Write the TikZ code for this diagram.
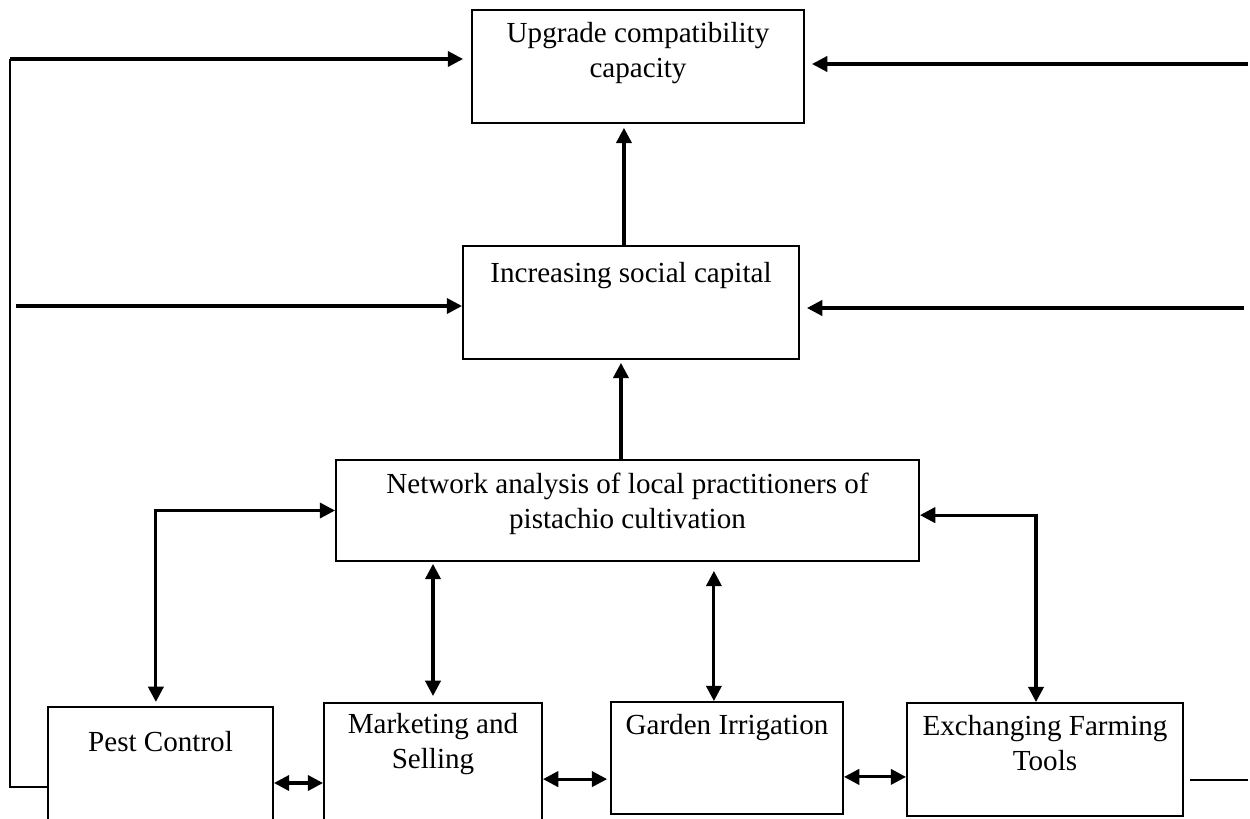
\documentclass[tikz,border=0pt]{standalone}
\usepackage{fontspec}
\setmainfont{Liberation Serif}
\usetikzlibrary{arrows.meta,positioning}
\newcommand{\px}{0.0145cm}

\begin{document}
\begin{tikzpicture}[x=\px,y=-\px,
  blk/.style={draw,line width=0.8pt,inner sep=0pt},
  lbl/.style={align=center,inner sep=0pt,font=\fontsize{12}{14.5}\selectfont,
    execute at begin node=\strut},
  flow/.style={line width=1.3pt,-{Triangle[length=6.3pt,width=6.3pt]}},
  twoway/.style={line width=1.3pt,
    {Triangle[length=6.3pt,width=6.3pt]}-{Triangle[length=6.3pt,width=6.3pt]}},
  thinline/.style={line width=0.9pt}]
  \useasboundingbox (0,0) rectangle (1250,818);
  \clip (0,0) rectangle (1250,818);

  % boxes
  \node[blk,minimum width=332*\px,minimum height=113*\px] (upgrade) at (638,66.5) {};
  \node[blk,minimum width=336*\px,minimum height=113*\px] (social) at (631,302.5) {};
  \node[blk,minimum width=583*\px,minimum height=101*\px] (network) at (627.5,510.5) {};
  \node[blk,minimum width=225*\px,minimum height=120*\px] (pest) at (160.5,767) {};
  \node[blk,minimum width=218*\px,minimum height=127*\px] (market) at (433,766.5) {};
  \node[blk,minimum width=232*\px,minimum height=112*\px] (garden) at (727,758) {};
  \node[blk,minimum width=276*\px,minimum height=113*\px] (exch) at (1045,759.5) {};

  \node[lbl,below=5.1pt of upgrade.north] (upgrade-t) {Upgrade compatibility\\capacity};
  \node[lbl,below=5.1pt of social.north] (social-t) {Increasing social capital};
  \node[lbl,below=5.5pt of network.north] (network-t)
    {Network analysis of local practitioners of\\pistachio cultivation};
  \node[lbl,below=8.4pt of pest.north] (pest-t) {Pest Control};
  \node[lbl,below=4.3pt of market.north] (market-t) {Marketing and\\Selling};
  \node[lbl,below=3.5pt of garden.north] (garden-t) {Garden Irrigation};
  \node[lbl,below=5.1pt of exch.north] (exch-t) {Exchanging Farming\\Tools};

  % outer lines
  \coordinate (lt) at (10,59);
  \coordinate (lb) at (10,787);
  \coordinate (lm) at (16,306);
  \coordinate (rt) at (1248,64);
  \coordinate (rm) at (1244,308);
  \coordinate (rb) at (1248,780);
  \draw[thinline] (pest.west |- lb) -- (lb) -- (lt);
  \draw[flow,shorten >=3.3pt] (lt) -- (upgrade.west |- lt);
  \draw[flow] (lm) -- (social.west |- lm);
  \draw[flow,shorten >=2.9pt] (rt) -- (upgrade.east |- rt);
  \draw[flow,shorten >=2.9pt] (rm) -- (social.east |- rm);
  \draw[thinline,shorten <=2.5pt] (exch.east |- rb) -- (rb);

  % upward
  \draw[flow,shorten >=1.2pt] ([xshift=-2.7pt]network.north)
    -- ([xshift=-2.7pt]network.north |- social.south);
  \draw[flow,shorten >=1.6pt] ([xshift=-2.9pt]social.north)
    -- ([xshift=-2.9pt]social.north |- upgrade.south);

  % network <-> practices
  \draw[twoway,shorten <=1.7pt] ([xshift=-1.9pt]pest.north) |- (network.west);
  \draw[twoway] ([xshift=-3.7pt]exch.north) |- ([yshift=-1.9pt]network.east);
  \draw[twoway,shorten <=0.8pt,shorten >=2.5pt] (network.south -| market.north)
    -- (market.north);
  \draw[twoway,shorten <=3.7pt] ([xshift=-5.4pt]garden.north |- network.south)
    -- ([xshift=-5.4pt]garden.north);

  % practices <-> practices
  \draw[twoway] ([yshift=-6.6pt]pest.east) -- ([yshift=-6.6pt]pest.east -| market.west);
  \draw[twoway,shorten >=1.2pt] ([yshift=-5.2pt]market.east)
    -- ([yshift=-5.2pt]market.east -| garden.west);
  \draw[twoway] ([yshift=-7.8pt]garden.east) -- ([yshift=-7.8pt]garden.east -| exch.west);
\end{tikzpicture}
\end{document}
